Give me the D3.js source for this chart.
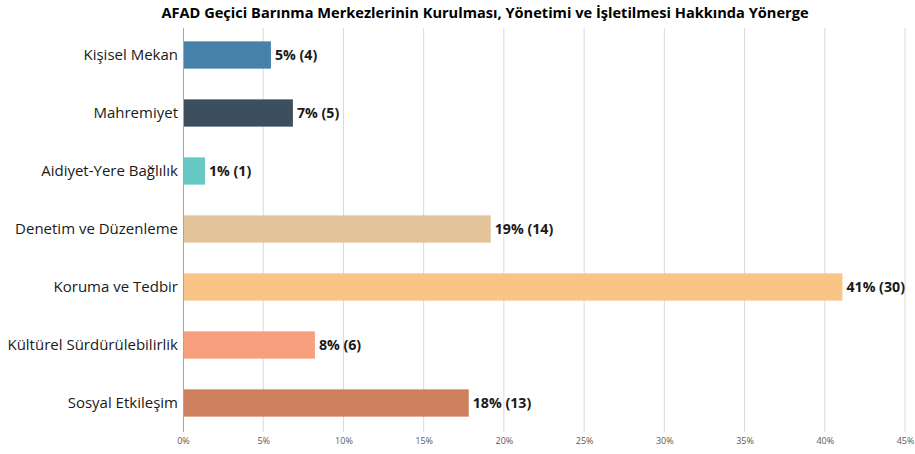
<!DOCTYPE html>
<html>
<head>
<meta charset="utf-8">
<script src="https://cdn.jsdelivr.net/npm/d3@7"></script>
<style>
    body { margin: 0; background: #fff; }
    svg { display: block; font-family: "Open Sans", sans-serif; }
</style>
</head>
<body>
<div id="chart"></div>
<script>
const categories = ["Kişisel Mekan", "Mahremiyet", "Aidiyet-Yere Bağlılık", "Denetim ve Düzenleme",
    "Koruma ve Tedbir", "Kültürel Sürdürülebilirlik", "Sosyal Etkileşim"];
const counts = [4, 5, 1, 14, 30, 6, 13];
const percents = [5.48, 6.85, 1.37, 19.18, 41.1, 8.22, 17.81];
const labels = ["5% (4)", "7% (5)", "1% (1)", "19% (14)", "41% (30)", "8% (6)", "18% (13)"];
const colors = ["#4581a8", "#3c4f5f", "#67c8c4", "#e3c39a", "#f8c586", "#f79f7d", "#ce7f5e"];
const ticks = [0, 5, 10, 15, 20, 25, 30, 35, 40, 45];

const width = 915, height = 454;
const margin = { top: 26, right: 10, bottom: 22, left: 183 };

const svg = d3.select("#chart").append("svg")
    .attr("width", width)
    .attr("height", height);

const x = d3.scaleLinear()
    .domain([0, 45])
    .range([margin.left, width - margin.right]);

const y = d3.scaleBand()
    .domain(categories)
    .range([margin.top, height - margin.bottom])
    .paddingInner(0.53)
    .paddingOuter(0.265);

// title
svg.append("text")
    .attr("x", 485)
    .attr("y", 18)
    .attr("text-anchor", "middle")
    .attr("font-weight", "bold")
    .attr("font-size", 14.6)
    .attr("fill", "#000")
    .text("AFAD Geçici Barınma Merkezlerinin Kurulması, Yönetimi ve İşletilmesi Hakkında Yönerge");

// grid lines
svg.append("g")
    .selectAll("line")
    .data(ticks.slice(1))
    .join("line")
    .attr("x1", d => x(d))
    .attr("x2", d => x(d))
    .attr("y1", margin.top + 2)
    .attr("y2", height - margin.bottom)
    .attr("stroke", "#d9d9d9")
    .attr("stroke-width", 1);

// x axis labels
const xAxis = d3.axisBottom(x)
    .tickValues(ticks)
    .tickFormat(d => d + "%")
    .tickSize(0)
    .tickPadding(6);

svg.append("g")
    .attr("transform", `translate(0,${height - margin.bottom})`)
    .call(xAxis)
    .call(g => g.select(".domain").remove())
    .call(g => g.selectAll("text")
        .attr("font-family", "Open Sans, sans-serif")
        .attr("font-size", 9)
        .attr("fill", "#595959"));

// bars
svg.append("g")
    .selectAll("rect")
    .data(categories)
    .join("rect")
    .attr("x", x(0))
    .attr("y", d => y(d))
    .attr("width", (d, i) => x(percents[i]) - x(0))
    .attr("height", y.bandwidth())
    .attr("fill", (d, i) => colors[i]);

// y axis line
svg.append("line")
    .attr("x1", x(0) + 0.5)
    .attr("x2", x(0) + 0.5)
    .attr("y1", margin.top + 2)
    .attr("y2", height - margin.bottom)
    .attr("stroke", "#a6a6a6");

// category labels
svg.append("g")
    .selectAll("text")
    .data(categories)
    .join("text")
    .attr("x", x(0) - 5)
    .attr("y", d => y(d) + y.bandwidth() / 2)
    .attr("dy", "0.35em")
    .attr("text-anchor", "end")
    .attr("font-size", 15)
    .attr("fill", "#1a1a1a")
    .text(d => d);

// value labels
svg.append("g")
    .selectAll("text")
    .data(categories)
    .join("text")
    .attr("x", (d, i) => x(percents[i]) + 4)
    .attr("y", d => y(d) + y.bandwidth() / 2)
    .attr("dy", "0.35em")
    .attr("font-size", 14.2)
    .attr("font-weight", "bold")
    .attr("fill", "#1a1a1a")
    .text((d, i) => labels[i]);
</script>
</body>
</html>
